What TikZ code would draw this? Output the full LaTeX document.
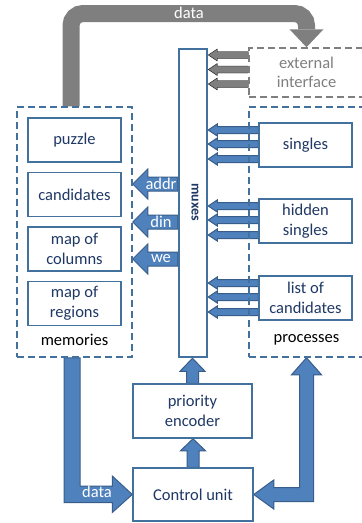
\documentclass[tikz,border=0pt]{standalone}
\usepackage{fontspec}
\setmainfont{Carlito}
\usetikzlibrary{calc,arrows.meta,backgrounds}

\definecolor{boxblue}{HTML}{41719C}
\definecolor{busblue}{HTML}{4F81BD}
\definecolor{busedge}{HTML}{385D8A}
\definecolor{textnavy}{HTML}{1F3864}
\definecolor{midgray}{HTML}{7F7F7F}

\newcommand{\boxfont}{\fontsize{16.5}{19.5}\selectfont}

% block arrow pointing left: shaft at y of #2, tip at x of #3
\newcommand{\busleft}[6][busarrow]{%
  \draw[#1] let \p1=(#2), \p2=(#3) in
    (\x1,\y1+#4) -- (\x2+#6,\y1+#4) -- (\x2+#6,\y1+#5) -- (\x2,\y1)
    -- (\x2+#6,\y1-#5) -- (\x2+#6,\y1-#4) -- (\x1,\y1-#4) -- cycle;}
% block arrow pointing up: shaft at x of #2, tip at y of #3
\newcommand{\busup}[6][busarrow]{%
  \draw[#1] let \p1=(#2), \p2=(#3) in
    (\x1+#4,\y1) -- (\x1+#4,\y2-#6) -- (\x1+#5,\y2-#6) -- (\x1,\y2)
    -- (\x1-#5,\y2-#6) -- (\x1-#4,\y2-#6) -- (\x1-#4,\y1) -- cycle;}

\begin{document}
\begin{tikzpicture}[x=1pt, y=-1pt, font=\boxfont,
    unit/.style={draw=boxblue, line width=1.5pt, fill=white, text=textnavy, align=center,
      inner sep=0pt, minimum width=93pt, minimum height=44pt},
    groupbox/.style={draw=boxblue, line width=1.5pt, dash pattern=on 7pt off 4pt,
      minimum width=115pt, minimum height=250pt},
    extbox/.style={draw=midgray, line width=1.5pt, dash pattern=on 7pt off 4pt, text=midgray,
      align=center, minimum width=115pt, minimum height=49pt},
    muxbox/.style={draw=boxblue, line width=2.5pt, fill=white, minimum width=28pt, minimum height=308pt},
    busarrow/.style={fill=busblue, draw=busedge, line width=1pt, line join=miter},
    extarrow/.style={fill=midgray},
    buslabel/.style={text=white, inner sep=0pt},
    databus/.style={draw=midgray, line width=17pt, rounded corners=12pt,
      -{Triangle[width=34pt, length=18pt, line width=0pt]}}]
  \useasboundingbox (0,0) rectangle (362,523);
  \clip (0,0) rectangle (362,523);

  % memories
  \node [groupbox] (mem) at (74.5,232) {};
  \node [unit] (puz) at (74.5,140) {puzzle};
  \node [unit] (cand) at (74.5,194.5) {candidates};
  \node [unit] (cols) at (74.5,249) {map of\\columns};
  \node [unit] (regs) at (74.5,303.5) {map of\\regions};
  \node (meml) at ($(mem.south)+(0,-18)$) {memories};

  % processes
  \node [groupbox] (proc) at (306.5,232) {};
  \node [unit] (sgl) at (305.5,145) {singles};
  \node [unit] (hid) at (305.5,221) {hidden\\singles};
  \node [unit] (lst) at (305.5,298) {list of\\candidates};
  \node (procl) at ($(proc.south)+(0,-18)$) {processes};
  \node [extbox] (ext) at (306.5,72.5) {external\\interface};

  % muxes and control
  \node [muxbox] (mux) at (193,203) {};
  \node [text=textnavy, font=\fontsize{14}{16}\selectfont\bfseries, rotate=-90] (muxl) at (195,202) {muxes};
  \node [unit, minimum width=119pt, minimum height=54pt] (pe) at (192.5,411) {priority\\encoder};
  \node [unit, minimum width=120pt, minimum height=53pt] (cu) at (193,494.5) {Control unit};

  \begin{pgfonlayer}{background}
    \draw [databus] ($(mem.north)+(-3.5,0)$) |- (ext.north |- 0,13.5) -- (ext.north);
    \foreach \r in {55,69.5,84}
      \busleft[extarrow]{ext.west |- 0,\r}{mux.east}{3.5pt}{6pt}{9pt};
    \foreach \b in {sgl,hid,lst}
      \foreach \off in {-15,-1,14}
        \busleft{$(\b.west)+(0,\off)$}{mux.east}{3.5pt}{6pt}{9pt};
    \foreach \r in {184,222,259}
      \busleft{mux.west |- 0,\r}{mem.east}{7pt}{15pt}{15pt};
    \busup{cu.north}{pe.south}{6pt}{12.5pt}{12pt};
    \busup{pe.north}{mux.south}{6pt}{12.5pt}{13pt};
    \draw [busarrow] ($(mem.south)+(-10.5,0)$) |- ($(cu.west)+(-20,8)$) -- ++(0,10) -- (cu.west)
      -- ++(-20,-18.5) -- ++(0,10) -| ($(mem.south)+(5.5,0)$) -- cycle;
    \draw [busarrow] (proc.south) -- ++(15,17) -- ++(-8,0) |- ($(cu.east)+(20,7)$) -- ++(0,7.5)
      -- (cu.east) -- ++(20,-14.5) -- ++(0,7.5) -| ($(proc.south)+(-7,17)$) -- ++(-8,0) -- cycle;
  \end{pgfonlayer}

  \node [buslabel] (topdata) at (189,13) {data};
  \node [buslabel] (addr) at (161,184) {addr};
  \node [buslabel] (din) at (161,222) {din};
  \node [buslabel] (we) at (161,259) {we};
  \node [buslabel] (botdata) at (97,492) {data};
\end{tikzpicture}
\end{document}
